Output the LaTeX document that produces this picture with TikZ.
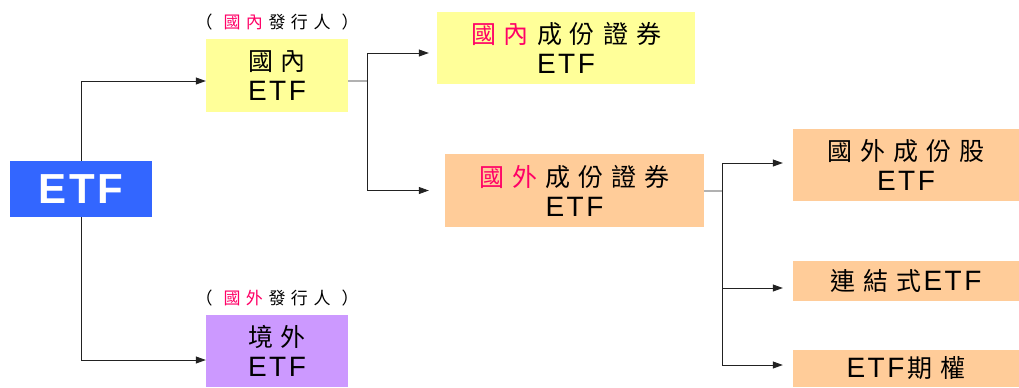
\documentclass[tikz,border=0pt]{standalone}
\usepackage{fontspec}
\setmainfont{Liberation Sans}
\newfontfamily\cjkfam{Noto Sans CJK TC}
\usetikzlibrary{arrows.meta}
\definecolor{etfblue}{HTML}{3366FF}
\definecolor{boxyellow}{HTML}{FFFF99}
\definecolor{boxorange}{HTML}{FFCC99}
\definecolor{boxpurple}{HTML}{CC99FF}
\definecolor{pinkred}{HTML}{FF0066}
\definecolor{linegray}{HTML}{222222}
\newcommand\cjk{\cjkfam\fontsize{25bp}{30bp}\selectfont}
\newcommand\gp{\kern8bp}
\newcommand\gl{\kern5.5bp}
\newcommand\etf{E\kern2.5bp T\kern2.5bp F}
\tikzset{
  box/.style={draw=none, inner sep=0pt, align=center, text=black,
    font=\fontsize{28bp}{30bp}\selectfont},
  conn/.style={draw=linegray, line width=0.8bp},
  arr/.style={conn, -{Triangle[length=10bp,width=7bp]}},
  lab/.style={inner sep=0pt, font=\fontsize{17bp}{20bp}\selectfont\cjkfam}
}
\begin{document}
\begin{tikzpicture}[x=1bp,y=-1bp]
\useasboundingbox (0,0) rectangle (1019,387);
% nodes
\node[box, fill=etfblue, text=white, minimum width=142bp, minimum height=56bp,
  font=\fontsize{42bp}{44bp}\bfseries] (etf) at (81,189) {E\kern3bp T\kern3bp F};
\node[box, fill=boxyellow, minimum width=142bp, minimum height=73bp] (dom) at (277,75.5)
  {{\cjk 國\gp 內}\\\etf};
\node[box, fill=boxpurple, minimum width=142bp, minimum height=72bp] (off) at (277,351)
  {{\cjk 境\gp 外}\\\etf};
\node[box, fill=boxyellow, minimum width=258bp, minimum height=72bp] (domsec) at (566,48)
  {{\cjk\textcolor{pinkred}{國\gp 內}\gp 成\gp 份\gp 證\gp 券}\\\etf};
\node[box, fill=boxorange, minimum width=259bp, minimum height=73bp] (forsec) at (574.5,190.5)
  {{\cjk\textcolor{pinkred}{國\gp 外}\gp 成\gp 份\gp 證\gp 券}\\\etf};
\node[box, fill=boxorange, minimum width=226bp, minimum height=72bp] (r1) at (906,165)
  {{\cjk 國\gp 外\gp 成\gp 份\gp 股}\\\etf};
\node[box, fill=boxorange, minimum width=226bp, minimum height=40bp] (r2) at (906,281)
  {{\cjk 連\gp 結\gp 式}\kern2bp\etf};
\node[box, fill=boxorange, minimum width=226bp, minimum height=37bp] (r3) at (906,368.5)
  {\etf\kern3bp{\cjk 期\gp 權}};
% labels
\node[lab] (l1) at (277,22) {（\gl\gl\textcolor{pinkred}{國\gl 內}\gl 發\gl 行\gl 人\gl\gl ）};
\node[lab] (l2) at (277,298) {（\gl\gl\textcolor{pinkred}{國\gl 外}\gl 發\gl 行\gl 人\gl\gl ）};
% junctions
\coordinate (j1) at (367,81);
\coordinate (j2) at (722,191);
% connectors
\draw[arr] (etf.north) |- ([yshift=-5.5bp]dom.west);
\draw[arr] (etf.south) |- ([yshift=-9bp]off.west);
\draw[conn] ([yshift=-5.5bp]dom.east) -- (j1);
\draw[arr, shorten >=8bp] (j1) |- ([yshift=-5bp]domsec.west);
\draw[arr, shorten >=16bp] (j1) |- (forsec.west);
\draw[conn] ([yshift=-0.5bp]forsec.east) -- (j2);
\draw[arr, shorten >=10bp] (j2) |- ([yshift=2bp]r1.west);
\draw[arr, shorten >=10bp] (j2) |- ([yshift=-7bp]r2.west);
\draw[arr, shorten >=10bp] (j2) |- ([yshift=3.5bp]r3.west);
\end{tikzpicture}
\end{document}
